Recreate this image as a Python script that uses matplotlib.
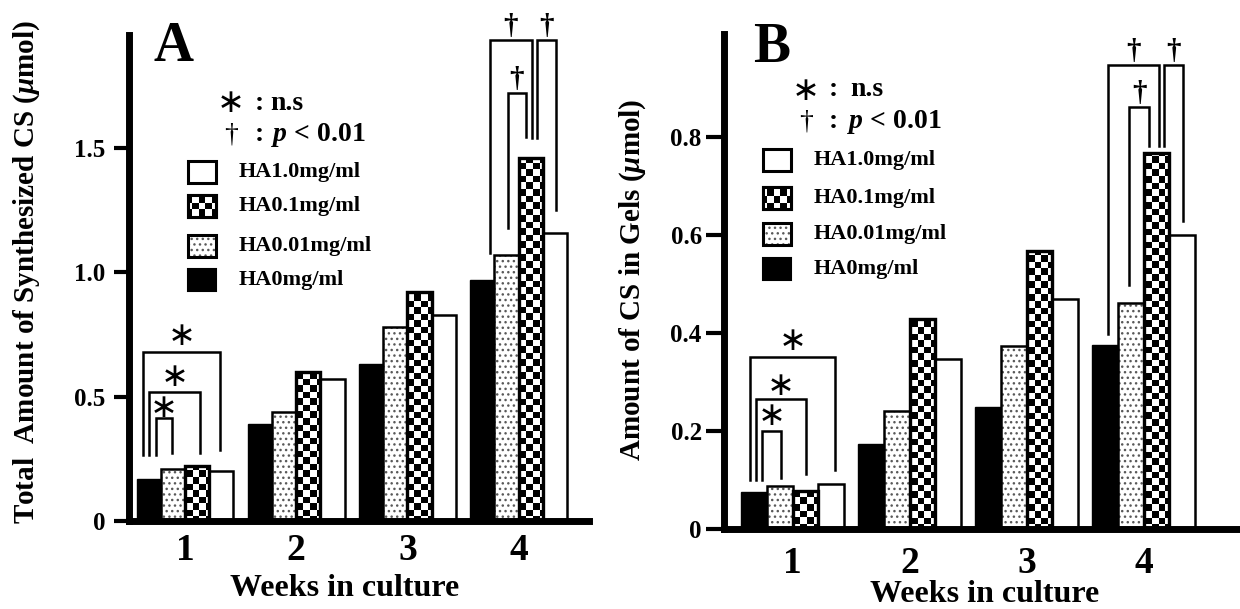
import numpy as np
import matplotlib.pyplot as plt
from matplotlib.patches import Rectangle

plt.rcParams['font.family'] = ['Liberation Serif', 'DejaVu Serif']
plt.rcParams['font.weight'] = 'bold'
plt.rcParams['mathtext.fontset'] = 'custom'
plt.rcParams['mathtext.rm'] = 'Liberation Serif:bold'
plt.rcParams['mathtext.it'] = 'Liberation Serif:italic'
plt.rcParams['hatch.linewidth'] = 1.0

W, H = 1240, 609

# ---- data ----
weeks = [1, 2, 3, 4]
week_labels = ['1', '2', '3', '4']
series_names = ['HA0mg/ml', 'HA0.01mg/ml', 'HA0.1mg/ml', 'HA1.0mg/ml']
legend_order = [3, 2, 1, 0]   # legend lists HA1.0 first

# panel A: total amount of synthesized CS (umol)
total_ha0 = [0.17, 0.39, 0.63, 0.97]
total_ha001 = [0.21, 0.44, 0.78, 1.07]
total_ha01 = [0.22, 0.60, 0.92, 1.46]
total_ha1 = [0.20, 0.57, 0.83, 1.16]

# panel B: amount of CS in gels (umol)
gel_ha0 = [0.076, 0.173, 0.248, 0.376]
gel_ha001 = [0.087, 0.241, 0.374, 0.462]
gel_ha01 = [0.078, 0.428, 0.567, 0.768]
gel_ha1 = [0.091, 0.346, 0.469, 0.600]

yticks_a = [0, 0.5, 1.0, 1.5]
yticklabels_a = ['0', '0.5', '1.0', '1.5']
yticks_b = [0, 0.2, 0.4, 0.6, 0.8]
yticklabels_b = ['0', '0.2', '0.4', '0.6', '0.8']

# significance brackets: (week, bar_l, bar_r, off_l, off_r, top, end_l, end_r, mark, mark_y)
brackets_a = [
    (0, 0, 3, -0.25, -0.05, 0.68, 0.265, 0.285, 'ns', 0.745),
    (0, 0, 2, 0.00, 0.12, 0.52, 0.265, 0.273, 'ns', 0.58),
    (0, 0, 1, 0.30, -0.04, 0.414, 0.265, 0.273, 'ns', 0.455),
    (3, 0, 2, 0.30, 0.06, 1.934, 1.078, 1.54, 'p', 1.934),
    (3, 1, 2, 0.06, -0.20, 1.72, 1.178, 1.544, 'p', 1.72),
    (3, 2, 3, 0.27, 0.06, 1.934, 1.54, 1.25, 'p', 1.934),
]
brackets_b = [
    (0, 0, 3, -0.16, 0.15, 0.351, 0.100, 0.120, 'ns', 0.385),
    (0, 0, 2, 0.08, 0.02, 0.265, 0.100, 0.112, 'ns', 0.292),
    (0, 0, 1, 0.31, 0.05, 0.201, 0.100, 0.104, 'ns', 0.232),
    (3, 0, 2, 0.12, 0.10, 0.947, 0.398, 0.782, 'p', 0.947),
    (3, 1, 2, -0.06, -0.29, 0.862, 0.497, 0.782, 'p', 0.862),
    (3, 2, 3, 0.30, 0.04, 0.947, 0.782, 0.628, 'p', 0.947),
]

# ---- layout (pixel geometry of each panel) ----
BAR_W = 0.218
panel_a = dict(left=129, right=589, top=35, zero=521, ppu_y=248.7, g1=185, ppu_x=111.2,
               legend_box_x=188, legend_text_x=239, legend_y=[172, 206, 246, 280],
               ns_y=103, p_y=135, sym_x=231, colon_x=259, ns_x=270, p_x=271,
               letter='A', letter_xy=(153, 61), ylabel_x=27, ylabel_y=272,
               ylabel='Total  Amount of Synthesized CS ($\\mu$mol)',
               xlabel_xy=(345, 589), tickpad=6, ticklen=11, xpad=9)
panel_b = dict(left=724, right=1240, top=34, zero=529, ppu_y=490, g1=792.5, ppu_x=117,
               legend_box_x=763, legend_text_x=814, legend_y=[160, 198, 234, 269],
               ns_y=90, p_y=122, sym_x=806, colon_x=833, ns_x=850, p_x=847,
               letter='B', letter_xy=(753, 62), ylabel_x=633, ylabel_y=280,
               ylabel='Amount of CS in Gels ($\\mu$mol)',
               xlabel_xy=(985, 594), tickpad=3, ticklen=13, xpad=12)


def px2data(p, px, py):
    return 1 + (px - p['g1']) / p['ppu_x'], (p['zero'] - py) / p['ppu_y']


def add_checker(ax, patch, p):
    xl, yl = ax.get_xlim(), ax.get_ylim()
    cell = 6.5
    nx = int((p['right'] - p['left'] + 200) / cell)
    ny = int((p['zero'] - p['top'] + 200) / cell)
    board = (np.add.outer(np.arange(ny), np.arange(nx)) % 2).astype(float)
    x0, y0 = px2data(p, p['left'] - 100, p['zero'] + 100)
    x1, y1 = px2data(p, p['right'] + 100, p['top'] - 100)
    im = ax.imshow(board, extent=(x0, x1, y0, y1), cmap='gray', origin='lower',
                   interpolation='nearest', aspect='auto', zorder=1.5, vmin=0, vmax=1)
    im.set_clip_path(patch)
    ax.set_xlim(xl)
    ax.set_ylim(yl)


def star(ax, x, y, size=24):
    ax.text(x, y, '\u2217', family='DejaVu Sans', fontsize=size, fontweight='normal',
            ha='center', va='center', clip_on=False)


def draw_panel(p, series, yticks, yticklabels, brackets):
    fig_ax = [p['left'] / W, (H - p['zero']) / H,
              (p['right'] - p['left']) / W, (p['zero'] - p['top']) / H]
    ax = fig.add_axes(fig_ax)
    xlo, ylo = px2data(p, p['left'], p['zero'])
    xhi, yhi = px2data(p, p['right'], p['top'])
    ax.set_xlim(xlo, xhi)
    ax.set_ylim(0, yhi)

    x = np.array(weeks, dtype=float)
    offs = (np.arange(4) - 1.5) * BAR_W
    # HA0: black
    ax.bar(x + offs[0], series[0], BAR_W, color='black', edgecolor='black', lw=1)
    # HA0.01: stipple
    ax.bar(x + offs[1], series[1], BAR_W, color='white', edgecolor='0.35', hatch='...', lw=0)
    ax.bar(x + offs[1], series[1], BAR_W, fill=False, edgecolor='black', lw=1.8, zorder=2)
    # HA0.1: checkerboard
    chk = ax.bar(x + offs[2], series[2], BAR_W, color='white', edgecolor='black', lw=2.2)
    for patch in chk:
        add_checker(ax, patch, p)
    ax.bar(x + offs[2], series[2], BAR_W, fill=False, edgecolor='black', lw=2.4, zorder=2)
    # HA1.0: white
    ax.bar(x + offs[3], series[3], BAR_W, color='white', edgecolor='black', lw=1.8)

    for s in ['top', 'right']:
        ax.spines[s].set_visible(False)
    for s in ['left', 'bottom']:
        ax.spines[s].set_linewidth(5)
        ax.spines[s].set_capstyle('projecting')
    ax.set_yticks(yticks)
    ax.set_yticklabels(yticklabels)
    ax.set_xticks(weeks)
    ax.set_xticklabels(week_labels)
    ax.tick_params(axis='y', length=p['ticklen'], width=3, labelsize=18, pad=p['tickpad'])
    ax.tick_params(axis='x', length=0, labelsize=27, pad=p['xpad'])

    # significance brackets
    for wk, bl, br, ol, orr, top, el, er, mark, my in brackets:
        xl_ = weeks[wk] + offs[bl] + ol * BAR_W
        xr_ = weeks[wk] + offs[br] + orr * BAR_W
        ax.plot([xl_, xl_, xr_, xr_], [el, top, top, er], color='black', lw=1.8,
                clip_on=False, solid_joinstyle='miter', zorder=3)
        xm = (xl_ + xr_) / 2
        if mark == 'ns':
            star(ax, xm, my)
        else:
            ax.text(xm, my, '\u2020', fontsize=21, ha='center', va='bottom', clip_on=False)

    # legend (hand-drawn to get the pattern swatches)
    bw, bh = 28, 22
    styles = ['black', 'dots', 'checker', 'white']
    for row, idx in enumerate(legend_order):
        cy = p['legend_y'][row]
        x0, y0 = px2data(p, p['legend_box_x'], cy + bh / 2)
        x1, y1 = px2data(p, p['legend_box_x'] + bw, cy - bh / 2)
        st = styles[idx]
        if st == 'black':
            r = Rectangle((x0, y0), x1 - x0, y1 - y0, fc='black', ec='black', lw=1.5, clip_on=False)
            ax.add_patch(r)
        elif st == 'white':
            r = Rectangle((x0, y0), x1 - x0, y1 - y0, fc='white', ec='black', lw=2.2, clip_on=False)
            ax.add_patch(r)
        elif st == 'dots':
            r = Rectangle((x0, y0), x1 - x0, y1 - y0, fc='white', ec='0.35', hatch='...', lw=0, clip_on=False)
            ax.add_patch(r)
            ax.add_patch(Rectangle((x0, y0), x1 - x0, y1 - y0, fill=False, ec='black', lw=2.2,
                                   clip_on=False, zorder=2))
        else:
            r = Rectangle((x0, y0), x1 - x0, y1 - y0, fc='white', ec='black', lw=2.2, clip_on=False)
            ax.add_patch(r)
            add_checker(ax, r, p)
            ax.add_patch(Rectangle((x0, y0), x1 - x0, y1 - y0, fill=False, ec='black', lw=2.2,
                                   clip_on=False, zorder=2))
        tx, ty = px2data(p, p['legend_text_x'], cy)
        ax.text(tx, ty, series_names[idx], fontsize=16, ha='left', va='center')

    # n.s / p < 0.01 key
    sx, sy = px2data(p, p['sym_x'], p['ns_y'])
    star(ax, sx, sy, 24)
    cx, _ = px2data(p, p['colon_x'], 0)
    ax.text(cx, sy, ':', fontsize=20, ha='center', va='center')
    nx_, _ = px2data(p, p['ns_x'], 0)
    ax.text(nx_, sy, 'n.s', fontsize=20, ha='left', va='center')
    _, py_ = px2data(p, 0, p['p_y'])
    ax.text(sx, py_, '\u2020', fontsize=20, fontweight='normal', ha='center', va='center')
    ax.text(cx, py_, ':', fontsize=20, ha='center', va='center')
    px_, _ = px2data(p, p['p_x'], 0)
    ax.text(px_, py_, '$p$ < 0.01', fontsize=20, ha='left', va='center')

    # panel letter, axis labels
    lx, ly = p['letter_xy']
    fig.text(lx / W, 1 - ly / H, p['letter'], fontsize=40, ha='left', va='baseline')
    fig.text(p['ylabel_x'] / W, 1 - p['ylabel_y'] / H, p['ylabel'], fontsize=21,
             rotation=90, ha='center', va='center')
    xx, xy = p['xlabel_xy']
    fig.text(xx / W, 1 - xy / H, 'Weeks in culture', fontsize=23, ha='center', va='center')
    return ax


fig = plt.figure(figsize=(W / 100, H / 100), dpi=100)
draw_panel(panel_a, [total_ha0, total_ha001, total_ha01, total_ha1],
           yticks_a, yticklabels_a, brackets_a)
draw_panel(panel_b, [gel_ha0, gel_ha001, gel_ha01, gel_ha1],
           yticks_b, yticklabels_b, brackets_b)
fig.savefig('out.png', dpi=100)
